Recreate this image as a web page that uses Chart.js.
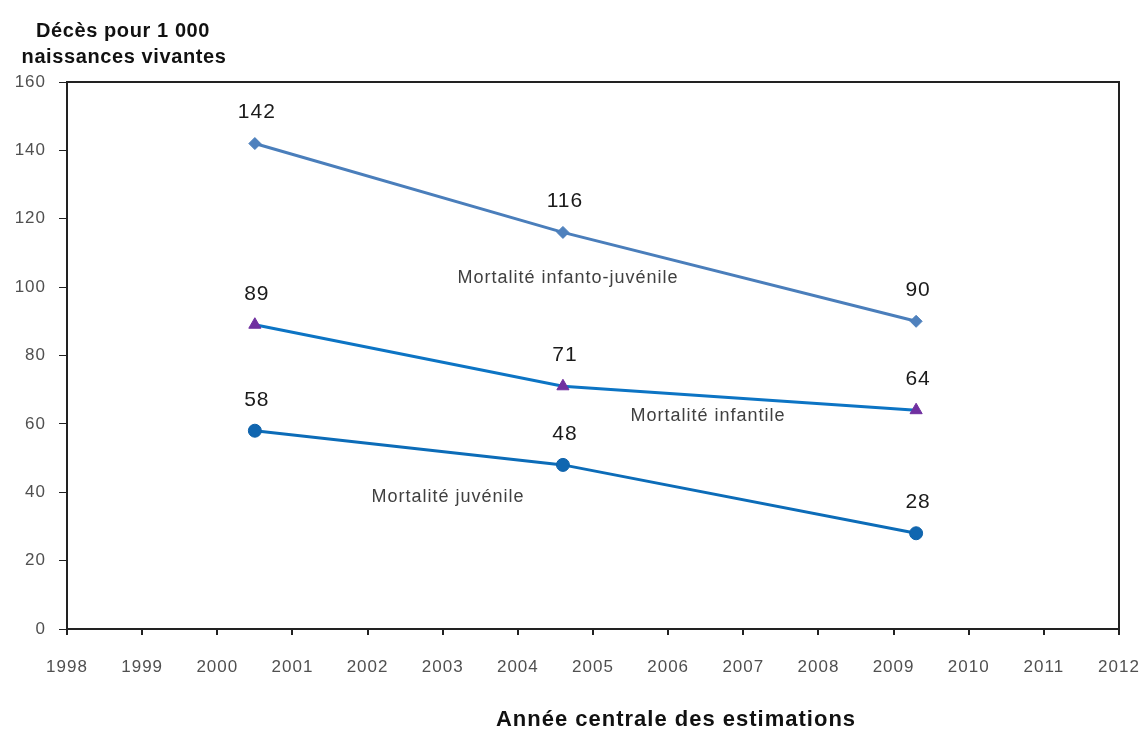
<!DOCTYPE html>
<html>
<head>
<meta charset="utf-8">
<script src="https://cdn.jsdelivr.net/npm/chart.js@4/dist/chart.umd.min.js"></script>
<style>
  html, body { margin: 0; padding: 0; background: #fff; }
  #wrap { width: 1146px; height: 736px; }
</style>
</head>
<body>
<div id="wrap"><canvas id="mortChart" width="1146" height="736"></canvas></div>
<script>
// --- data ---
const years = [2000.5, 2004.6, 2009.3];
const infantoJuvenile = [142, 116, 90];
const infantile = [89, 71, 64];
const juvenile = [58, 48, 28];
const seriesNames = ['Mortalité infanto-juvénile', 'Mortalité infantile', 'Mortalité juvénile'];
const yTitle = ['Décès pour 1 000', 'naissances vivantes'];
const xTitle = 'Année centrale des estimations';

const toPoints = vals => vals.map((v, i) => ({ x: years[i], y: v }));
const FONT = '"Liberation Sans", Arial, sans-serif';

// the original text is a bit wider than Arial, so space the letters out
const spacingPlugin = {
    id: 'spacing',
    beforeDraw(chart) { chart.ctx.letterSpacing = '1px'; }
};

// box around plot + texts
const decorPlugin = {
    id: 'decor',
    afterDraw(chart) {
        const ctx = chart.ctx;
        const a = chart.chartArea;
        ctx.save();
        ctx.strokeStyle = '#222';
        ctx.lineWidth = 2;
        ctx.strokeRect(a.left, a.top, a.right - a.left, a.bottom - a.top);

        // value labels above each point
        ctx.fillStyle = '#1a1a1a';
        ctx.font = '21px ' + FONT;
        ctx.letterSpacing = '1px';
        ctx.textAlign = 'center';
        ctx.textBaseline = 'middle';
        chart.data.datasets.forEach((ds, di) => {
            chart.getDatasetMeta(di).data.forEach((pt, i) => {
                ctx.fillText(String(ds.data[i].y), pt.x + 2, pt.y - 31);
            });
        });

        // series names inside the plot
        ctx.fillStyle = '#404040';
        ctx.font = '18px ' + FONT;
        ctx.fillText(seriesNames[0], 568, 278);
        ctx.fillText(seriesNames[1], 708, 416);
        ctx.fillText(seriesNames[2], 448, 497);

        // axis titles
        ctx.fillStyle = '#111';
        ctx.font = 'bold 20px ' + FONT;
        ctx.letterSpacing = '0.6px';
        ctx.fillText(yTitle[0], 123, 31);
        ctx.fillText(yTitle[1], 124, 57);
        ctx.font = 'bold 22px ' + FONT;
        ctx.letterSpacing = '1px';
        ctx.fillText(xTitle, 676, 720);
        ctx.restore();
    }
};

const tickFont = { family: FONT, size: 17 };

new Chart(document.getElementById('mortChart'), {
    type: 'line',
    data: {
        datasets: [
            {
                label: seriesNames[0],
                data: toPoints(infantoJuvenile),
                borderColor: '#4A7EBB',
                backgroundColor: '#4F81BD',
                borderWidth: 3,
                pointStyle: 'rectRot',
                pointRadius: 6,
                pointBorderWidth: 1
            },
            {
                label: seriesNames[1],
                data: toPoints(infantile),
                borderColor: '#0C74C4',
                backgroundColor: '#7030A0',
                pointBorderColor: '#7030A0',
                borderWidth: 3,
                pointStyle: 'triangle',
                pointRadius: 7,
                pointBorderWidth: 1
            },
            {
                label: seriesNames[2],
                data: toPoints(juvenile),
                borderColor: '#0C6CB8',
                backgroundColor: '#1066B0',
                pointBorderColor: '#0E62AA',
                borderWidth: 3,
                pointStyle: 'circle',
                pointRadius: 6.5,
                pointBorderWidth: 1
            }
        ]
    },
    options: {
        responsive: false,
        animation: false,
        layout: { padding: { top: 82, right: 27, left: 0, bottom: 0 } },
        plugins: {
            legend: { display: false },
            tooltip: { enabled: false }
        },
        scales: {
            x: {
                type: 'linear',
                min: 1998,
                max: 2012,
                ticks: {
                    stepSize: 1,
                    color: '#505050',
                    font: tickFont,
                    padding: 22,
                    callback: v => String(v)
                },
                grid: { drawOnChartArea: false, drawTicks: true, tickLength: 6, color: '#222', lineWidth: 2 },
                border: { display: true, color: '#222', width: 2 },
                afterFit: scale => {
                    scale.height = 107;
                    scale.paddingLeft = 0;
                    scale.paddingRight = 0;
                }
            },
            y: {
                min: 0,
                max: 160,
                ticks: {
                    stepSize: 20,
                    color: '#505050',
                    font: tickFont,
                    padding: 13
                },
                grid: { drawOnChartArea: false, drawTicks: true, tickLength: 8, color: '#222', lineWidth: 1 },
                border: { display: true, color: '#222', width: 2 },
                afterFit: scale => {
                    scale.width = 67;
                    scale.paddingTop = 0;
                    scale.paddingBottom = 0;
                }
            }
        }
    },
    plugins: [spacingPlugin, decorPlugin]
});
</script>
</body>
</html>
